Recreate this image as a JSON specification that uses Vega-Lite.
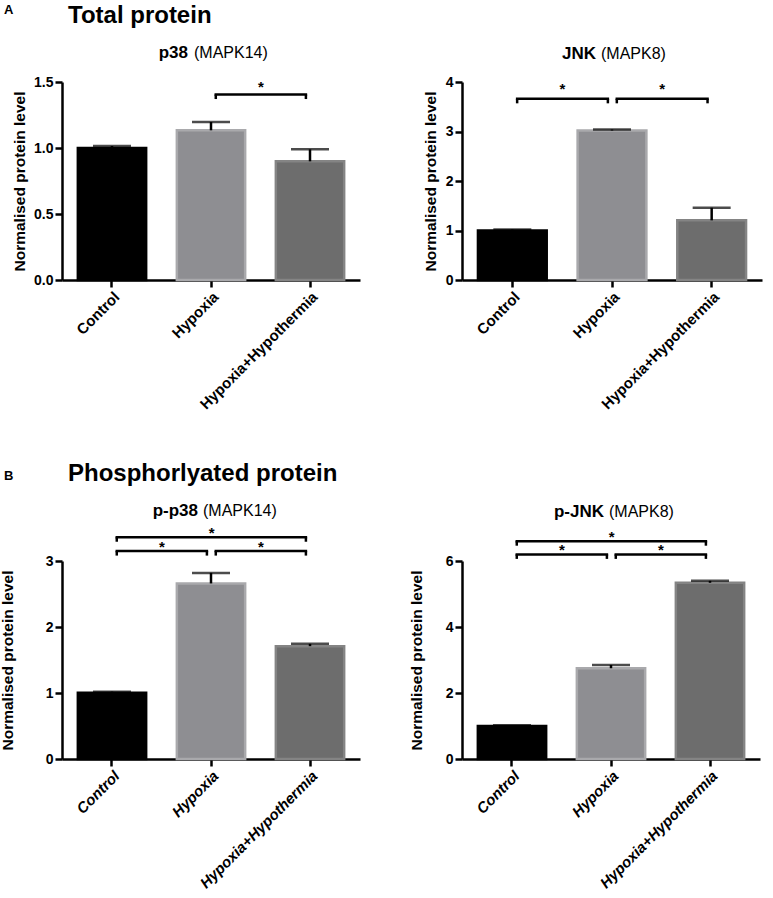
{
  "$schema": "https://vega.github.io/schema/vega-lite/v6.json",
  "padding": {"left": 0, "top": 4, "right": 2, "bottom": 2},
  "spacing": 50,
  "datasets": {
    "p38": [
      {"group": "Control", "mean": 1.0, "upper": 1.015},
      {"group": "Hypoxia", "mean": 1.134, "upper": 1.197},
      {"group": "Hypoxia+Hypothermia", "mean": 0.899, "upper": 0.99}
    ],
    "jnk": [
      {"group": "Control", "mean": 1.0, "upper": 1.02},
      {"group": "Hypoxia", "mean": 3.02, "upper": 3.04},
      {"group": "Hypoxia+Hypothermia", "mean": 1.205, "upper": 1.46}
    ],
    "pp38": [
      {"group": "Control", "mean": 1.005, "upper": 1.02},
      {"group": "Hypoxia", "mean": 2.66, "upper": 2.82},
      {"group": "Hypoxia+Hypothermia", "mean": 1.71, "upper": 1.745}
    ],
    "pjnk": [
      {"group": "Control", "mean": 1.0, "upper": 1.02},
      {"group": "Hypoxia", "mean": 2.75, "upper": 2.85},
      {"group": "Hypoxia+Hypothermia", "mean": 5.34, "upper": 5.4}
    ],
    "p38_sig": [
      {"from": "Hypoxia", "to": "Hypoxia+Hypothermia", "level": 1.405, "label": "*"}
    ],
    "jnk_sig": [
      {"from": "Control", "to": "Hypoxia", "level": 3.66, "label": "*"},
      {"from": "Hypoxia", "to": "Hypoxia+Hypothermia", "level": 3.66, "label": "*"}
    ],
    "pp38_sig": [
      {"from": "Control", "to": "Hypoxia", "level": 3.15, "label": "*"},
      {"from": "Hypoxia", "to": "Hypoxia+Hypothermia", "level": 3.15, "label": "*"},
      {"from": "Control", "to": "Hypoxia+Hypothermia", "level": 3.36, "label": "*", "mid": "Hypoxia"}
    ],
    "pjnk_sig": [
      {"from": "Control", "to": "Hypoxia", "level": 6.2, "label": "*"},
      {"from": "Hypoxia", "to": "Hypoxia+Hypothermia", "level": 6.2, "label": "*"},
      {"from": "Control", "to": "Hypoxia+Hypothermia", "level": 6.6, "label": "*", "mid": "Hypoxia"}
    ],
    "p38_name": [{"protein": "p38", "gene": "(MAPK14)"}],
    "jnk_name": [{"protein": "JNK", "gene": "(MAPK8)"}],
    "pp38_name": [{"protein": "p-p38", "gene": "(MAPK14)"}],
    "pjnk_name": [{"protein": "p-JNK", "gene": "(MAPK8)"}]
  },
  "vconcat": [
    {
      "title": {"text": "A", "anchor": "start", "frame": "group", "dx": -58, "fontSize": 13, "offset": -13},
      "bounds": "flush",
      "spacing": 102,
      "hconcat": [
        {
          "width": 298, "height": 198,
          "title": {"text": "Total protein", "anchor": "start", "frame": "group", "dx": 6, "fontSize": 24, "offset": 16},
          "layer": [
            {"data": {"name": "p38"}, "mark": {"type": "bar", "strokeWidth": 2.5},
             "encoding": {
               "x": {"field": "group", "type": "nominal", "sort": null,
                     "scale": {"domain": ["Control", "Hypoxia", "Hypoxia+Hypothermia"], "paddingInner": 0.31, "paddingOuter": 0.16}},
               "y": {"field": "mean", "type": "quantitative",
                     "scale": {"domain": [0, 1.5], "nice": false},
                     "axis": {"values": [0, 0.5, 1, 1.5], "format": ".1f", "title": "Normalised protein level", "titlePadding": 6}},
               "color": {"field": "group", "type": "nominal", "scale": {"domain": ["Control", "Hypoxia", "Hypoxia+Hypothermia"], "range": ["#000000", "#8e8e92", "#6d6d6d"]}, "legend": null},
               "stroke": {"field": "group", "type": "nominal", "scale": {"domain": ["Control", "Hypoxia", "Hypoxia+Hypothermia"], "range": ["#000000", "#a9a9ac", "#848484"]}, "legend": null}
             }},
            {"data": {"name": "p38"}, "mark": {"type": "rule", "strokeWidth": 2.5, "color": "#000000"},
             "encoding": {"x": {"field": "group", "type": "nominal"}, "y": {"field": "mean", "type": "quantitative"}, "y2": {"field": "upper"}}},
            {"data": {"name": "p38"}, "mark": {"type": "tick", "size": 38, "thickness": 2.5, "color": "#000000"},
             "encoding": {"x": {"field": "group", "type": "nominal"}, "y": {"field": "upper", "type": "quantitative"}}},
            {"data": {"name": "p38_sig"}, "mark": {"type": "rule", "strokeWidth": 2.5, "color": "#000000", "strokeCap": "square"},
             "encoding": {"x": {"field": "from", "type": "nominal", "bandPosition": 0.57}, "x2": {"field": "to", "bandPosition": 0.44}, "y": {"field": "level", "type": "quantitative"}}},
            {"data": {"name": "p38_sig"}, "mark": {"type": "rule", "strokeWidth": 2.5, "color": "#000000", "y2Offset": 4.5},
             "encoding": {"x": {"field": "from", "type": "nominal", "bandPosition": 0.57}, "y": {"field": "level", "type": "quantitative"}, "y2": {"field": "level"}}},
            {"data": {"name": "p38_sig"}, "mark": {"type": "rule", "strokeWidth": 2.5, "color": "#000000", "y2Offset": 4.5},
             "encoding": {"x": {"field": "to", "type": "nominal", "bandPosition": 0.44}, "y": {"field": "level", "type": "quantitative"}, "y2": {"field": "level"}}},
            {"data": {"name": "p38_sig"}, "transform": [{"filter": "!isValid(datum.mid)"}],
             "mark": {"type": "text", "fontSize": 15, "fontWeight": "bold", "baseline": "alphabetic", "dy": -3, "color": "#000000"},
             "encoding": {"x": {"field": "from", "type": "nominal", "bandPosition": 1.23}, "y": {"field": "level", "type": "quantitative"}, "text": {"field": "label"}}},
            {"data": {"name": "p38_name"}, "mark": {"type": "text", "align": "right", "baseline": "alphabetic", "fontWeight": "bold", "fontSize": 17, "dx": -23, "color": "#000000"},
             "encoding": {"x": {"datum": "Hypoxia", "type": "nominal"}, "y": {"datum": 1.68, "type": "quantitative"}, "text": {"field": "protein"}}},
            {"data": {"name": "p38_name"}, "mark": {"type": "text", "align": "left", "baseline": "alphabetic", "fontWeight": "normal", "fontSize": 16, "dx": -17, "color": "#000000"},
             "encoding": {"x": {"datum": "Hypoxia", "type": "nominal"}, "y": {"datum": 1.68, "type": "quantitative"}, "text": {"field": "gene"}}}
          ]
        },
        {
          "width": 300, "height": 198,
          "layer": [
            {"data": {"name": "jnk"}, "mark": {"type": "bar", "strokeWidth": 2.5},
             "encoding": {
               "x": {"field": "group", "type": "nominal", "sort": null,
                     "scale": {"domain": ["Control", "Hypoxia", "Hypoxia+Hypothermia"], "paddingInner": 0.31, "paddingOuter": 0.16}},
               "y": {"field": "mean", "type": "quantitative",
                     "scale": {"domain": [0, 4], "nice": false},
                     "axis": {"values": [0, 1, 2, 3, 4], "format": "d", "title": "Normalised protein level", "titlePadding": 7}},
               "color": {"field": "group", "type": "nominal", "scale": {"domain": ["Control", "Hypoxia", "Hypoxia+Hypothermia"], "range": ["#000000", "#8e8e92", "#6d6d6d"]}, "legend": null},
               "stroke": {"field": "group", "type": "nominal", "scale": {"domain": ["Control", "Hypoxia", "Hypoxia+Hypothermia"], "range": ["#000000", "#a9a9ac", "#848484"]}, "legend": null}
             }},
            {"data": {"name": "jnk"}, "mark": {"type": "rule", "strokeWidth": 2.5, "color": "#000000"},
             "encoding": {"x": {"field": "group", "type": "nominal"}, "y": {"field": "mean", "type": "quantitative"}, "y2": {"field": "upper"}}},
            {"data": {"name": "jnk"}, "mark": {"type": "tick", "size": 38, "thickness": 2.5, "color": "#000000"},
             "encoding": {"x": {"field": "group", "type": "nominal"}, "y": {"field": "upper", "type": "quantitative"}}},
            {"data": {"name": "jnk_sig"}, "mark": {"type": "rule", "strokeWidth": 2.5, "color": "#000000", "strokeCap": "square"},
             "encoding": {"x": {"field": "from", "type": "nominal", "bandPosition": 0.57}, "x2": {"field": "to", "bandPosition": 0.44}, "y": {"field": "level", "type": "quantitative"}}},
            {"data": {"name": "jnk_sig"}, "mark": {"type": "rule", "strokeWidth": 2.5, "color": "#000000", "y2Offset": 4.5},
             "encoding": {"x": {"field": "from", "type": "nominal", "bandPosition": 0.57}, "y": {"field": "level", "type": "quantitative"}, "y2": {"field": "level"}}},
            {"data": {"name": "jnk_sig"}, "mark": {"type": "rule", "strokeWidth": 2.5, "color": "#000000", "y2Offset": 4.5},
             "encoding": {"x": {"field": "to", "type": "nominal", "bandPosition": 0.44}, "y": {"field": "level", "type": "quantitative"}, "y2": {"field": "level"}}},
            {"data": {"name": "jnk_sig"}, "transform": [{"filter": "!isValid(datum.mid)"}],
             "mark": {"type": "text", "fontSize": 15, "fontWeight": "bold", "baseline": "alphabetic", "dy": -5, "color": "#000000"},
             "encoding": {"x": {"field": "from", "type": "nominal", "bandPosition": 1.23}, "y": {"field": "level", "type": "quantitative"}, "text": {"field": "label"}}},
            {"data": {"name": "jnk_name"}, "mark": {"type": "text", "align": "right", "baseline": "alphabetic", "fontWeight": "bold", "fontSize": 17, "dx": -16, "color": "#000000"},
             "encoding": {"x": {"datum": "Hypoxia", "type": "nominal"}, "y": {"datum": 4.47, "type": "quantitative"}, "text": {"field": "protein"}}},
            {"data": {"name": "jnk_name"}, "mark": {"type": "text", "align": "left", "baseline": "alphabetic", "fontWeight": "normal", "fontSize": 16, "dx": -11, "color": "#000000"},
             "encoding": {"x": {"datum": "Hypoxia", "type": "nominal"}, "y": {"datum": 4.47, "type": "quantitative"}, "text": {"field": "gene"}}}
          ]
        }
      ]
    },
    {
      "title": {"text": "B", "anchor": "start", "frame": "group", "dx": -58, "fontSize": 13, "offset": -21},
      "bounds": "flush",
      "spacing": 102,
      "hconcat": [
        {
          "width": 298, "height": 198,
          "title": {"text": "Phosphorlyated protein", "anchor": "start", "frame": "group", "dx": 6, "fontSize": 24, "offset": 16},
          "layer": [
            {"data": {"name": "pp38"}, "mark": {"type": "bar", "strokeWidth": 2.5},
             "encoding": {
               "x": {"field": "group", "type": "nominal", "sort": null,
                     "scale": {"domain": ["Control", "Hypoxia", "Hypoxia+Hypothermia"], "paddingInner": 0.31, "paddingOuter": 0.16},
                     "axis": {"labelFontStyle": "italic"}},
               "y": {"field": "mean", "type": "quantitative",
                     "scale": {"domain": [0, 3], "nice": false},
                     "axis": {"values": [0, 1, 2, 3], "format": "d", "title": "Normalised protein level", "titlePadding": 30}},
               "color": {"field": "group", "type": "nominal", "scale": {"domain": ["Control", "Hypoxia", "Hypoxia+Hypothermia"], "range": ["#000000", "#8e8e92", "#6d6d6d"]}, "legend": null},
               "stroke": {"field": "group", "type": "nominal", "scale": {"domain": ["Control", "Hypoxia", "Hypoxia+Hypothermia"], "range": ["#000000", "#a9a9ac", "#848484"]}, "legend": null}
             }},
            {"data": {"name": "pp38"}, "mark": {"type": "rule", "strokeWidth": 2.5, "color": "#000000"},
             "encoding": {"x": {"field": "group", "type": "nominal"}, "y": {"field": "mean", "type": "quantitative"}, "y2": {"field": "upper"}}},
            {"data": {"name": "pp38"}, "mark": {"type": "tick", "size": 38, "thickness": 2.5, "color": "#000000"},
             "encoding": {"x": {"field": "group", "type": "nominal"}, "y": {"field": "upper", "type": "quantitative"}}},
            {"data": {"name": "pp38_sig"}, "mark": {"type": "rule", "strokeWidth": 2.5, "color": "#000000", "strokeCap": "square"},
             "encoding": {"x": {"field": "from", "type": "nominal", "bandPosition": 0.57}, "x2": {"field": "to", "bandPosition": 0.44}, "y": {"field": "level", "type": "quantitative"}}},
            {"data": {"name": "pp38_sig"}, "mark": {"type": "rule", "strokeWidth": 2.5, "color": "#000000", "y2Offset": 4.5},
             "encoding": {"x": {"field": "from", "type": "nominal", "bandPosition": 0.57}, "y": {"field": "level", "type": "quantitative"}, "y2": {"field": "level"}}},
            {"data": {"name": "pp38_sig"}, "mark": {"type": "rule", "strokeWidth": 2.5, "color": "#000000", "y2Offset": 4.5},
             "encoding": {"x": {"field": "to", "type": "nominal", "bandPosition": 0.44}, "y": {"field": "level", "type": "quantitative"}, "y2": {"field": "level"}}},
            {"data": {"name": "pp38_sig"}, "transform": [{"filter": "!isValid(datum.mid)"}],
             "mark": {"type": "text", "fontSize": 15, "fontWeight": "bold", "baseline": "alphabetic", "dy": 1, "color": "#000000"},
             "encoding": {"x": {"field": "from", "type": "nominal", "bandPosition": 1.23}, "y": {"field": "level", "type": "quantitative"}, "text": {"field": "label"}}},
            {"data": {"name": "pp38_sig"}, "transform": [{"filter": "isValid(datum.mid)"}],
             "mark": {"type": "text", "fontSize": 15, "fontWeight": "bold", "baseline": "alphabetic", "dy": 1, "color": "#000000"},
             "encoding": {"x": {"field": "mid", "type": "nominal", "bandPosition": 0.51}, "y": {"field": "level", "type": "quantitative"}, "text": {"field": "label"}}},
            {"data": {"name": "pp38_name"}, "mark": {"type": "text", "align": "right", "baseline": "alphabetic", "fontWeight": "bold", "fontSize": 17, "dx": -13, "color": "#000000"},
             "encoding": {"x": {"datum": "Hypoxia", "type": "nominal"}, "y": {"datum": 3.68, "type": "quantitative"}, "text": {"field": "protein"}}},
            {"data": {"name": "pp38_name"}, "mark": {"type": "text", "align": "left", "baseline": "alphabetic", "fontWeight": "normal", "fontSize": 16, "dx": -8, "color": "#000000"},
             "encoding": {"x": {"datum": "Hypoxia", "type": "nominal"}, "y": {"datum": 3.68, "type": "quantitative"}, "text": {"field": "gene"}}}
          ]
        },
        {
          "width": 298, "height": 198,
          "layer": [
            {"data": {"name": "pjnk"}, "mark": {"type": "bar", "strokeWidth": 2.5},
             "encoding": {
               "x": {"field": "group", "type": "nominal", "sort": null,
                     "scale": {"domain": ["Control", "Hypoxia", "Hypoxia+Hypothermia"], "paddingInner": 0.31, "paddingOuter": 0.16},
                     "axis": {"labelFontStyle": "italic"}},
               "y": {"field": "mean", "type": "quantitative",
                     "scale": {"domain": [0, 6], "nice": false},
                     "axis": {"values": [0, 2, 4, 6], "format": "d", "title": "Normalised protein level", "titlePadding": 21}},
               "color": {"field": "group", "type": "nominal", "scale": {"domain": ["Control", "Hypoxia", "Hypoxia+Hypothermia"], "range": ["#000000", "#8e8e92", "#6d6d6d"]}, "legend": null},
               "stroke": {"field": "group", "type": "nominal", "scale": {"domain": ["Control", "Hypoxia", "Hypoxia+Hypothermia"], "range": ["#000000", "#a9a9ac", "#848484"]}, "legend": null}
             }},
            {"data": {"name": "pjnk"}, "mark": {"type": "rule", "strokeWidth": 2.5, "color": "#000000"},
             "encoding": {"x": {"field": "group", "type": "nominal"}, "y": {"field": "mean", "type": "quantitative"}, "y2": {"field": "upper"}}},
            {"data": {"name": "pjnk"}, "mark": {"type": "tick", "size": 38, "thickness": 2.5, "color": "#000000"},
             "encoding": {"x": {"field": "group", "type": "nominal"}, "y": {"field": "upper", "type": "quantitative"}}},
            {"data": {"name": "pjnk_sig"}, "mark": {"type": "rule", "strokeWidth": 2.5, "color": "#000000", "strokeCap": "square"},
             "encoding": {"x": {"field": "from", "type": "nominal", "bandPosition": 0.57}, "x2": {"field": "to", "bandPosition": 0.44}, "y": {"field": "level", "type": "quantitative"}}},
            {"data": {"name": "pjnk_sig"}, "mark": {"type": "rule", "strokeWidth": 2.5, "color": "#000000", "y2Offset": 4.5},
             "encoding": {"x": {"field": "from", "type": "nominal", "bandPosition": 0.57}, "y": {"field": "level", "type": "quantitative"}, "y2": {"field": "level"}}},
            {"data": {"name": "pjnk_sig"}, "mark": {"type": "rule", "strokeWidth": 2.5, "color": "#000000", "y2Offset": 4.5},
             "encoding": {"x": {"field": "to", "type": "nominal", "bandPosition": 0.44}, "y": {"field": "level", "type": "quantitative"}, "y2": {"field": "level"}}},
            {"data": {"name": "pjnk_sig"}, "transform": [{"filter": "!isValid(datum.mid)"}],
             "mark": {"type": "text", "fontSize": 15, "fontWeight": "bold", "baseline": "alphabetic", "dy": 1, "color": "#000000"},
             "encoding": {"x": {"field": "from", "type": "nominal", "bandPosition": 1.23}, "y": {"field": "level", "type": "quantitative"}, "text": {"field": "label"}}},
            {"data": {"name": "pjnk_sig"}, "transform": [{"filter": "isValid(datum.mid)"}],
             "mark": {"type": "text", "fontSize": 15, "fontWeight": "bold", "baseline": "alphabetic", "dy": 1, "color": "#000000"},
             "encoding": {"x": {"field": "mid", "type": "nominal", "bandPosition": 0.51}, "y": {"field": "level", "type": "quantitative"}, "text": {"field": "label"}}},
            {"data": {"name": "pjnk_name"}, "mark": {"type": "text", "align": "right", "baseline": "alphabetic", "fontWeight": "bold", "fontSize": 17, "dx": -7, "color": "#000000"},
             "encoding": {"x": {"datum": "Hypoxia", "type": "nominal"}, "y": {"datum": 7.33, "type": "quantitative"}, "text": {"field": "protein"}}},
            {"data": {"name": "pjnk_name"}, "mark": {"type": "text", "align": "left", "baseline": "alphabetic", "fontWeight": "normal", "fontSize": 16, "dx": -2, "color": "#000000"},
             "encoding": {"x": {"datum": "Hypoxia", "type": "nominal"}, "y": {"datum": 7.33, "type": "quantitative"}, "text": {"field": "gene"}}}
          ]
        }
      ]
    }
  ],
  "config": {
    "font": "Liberation Sans",
    "view": {"stroke": null},
    "axis": {
      "grid": false,
      "domainColor": "#000000", "domainWidth": 2.5,
      "tickColor": "#000000", "tickWidth": 2.5, "tickSize": 7,
      "labelColor": "#000000", "labelFont": "Liberation Sans", "labelFontWeight": "bold",
      "titleColor": "#000000", "titleFont": "Liberation Sans", "titleFontWeight": "bold"
    },
    "axisX": {"labelAngle": -45, "labelFontSize": 15, "labelPadding": 2, "title": null},
    "axisY": {"labelFontSize": 14, "labelPadding": 2, "titleFontSize": 15.5},
    "title": {"font": "Liberation Sans", "color": "#000000", "fontWeight": "bold"}
  }
}
